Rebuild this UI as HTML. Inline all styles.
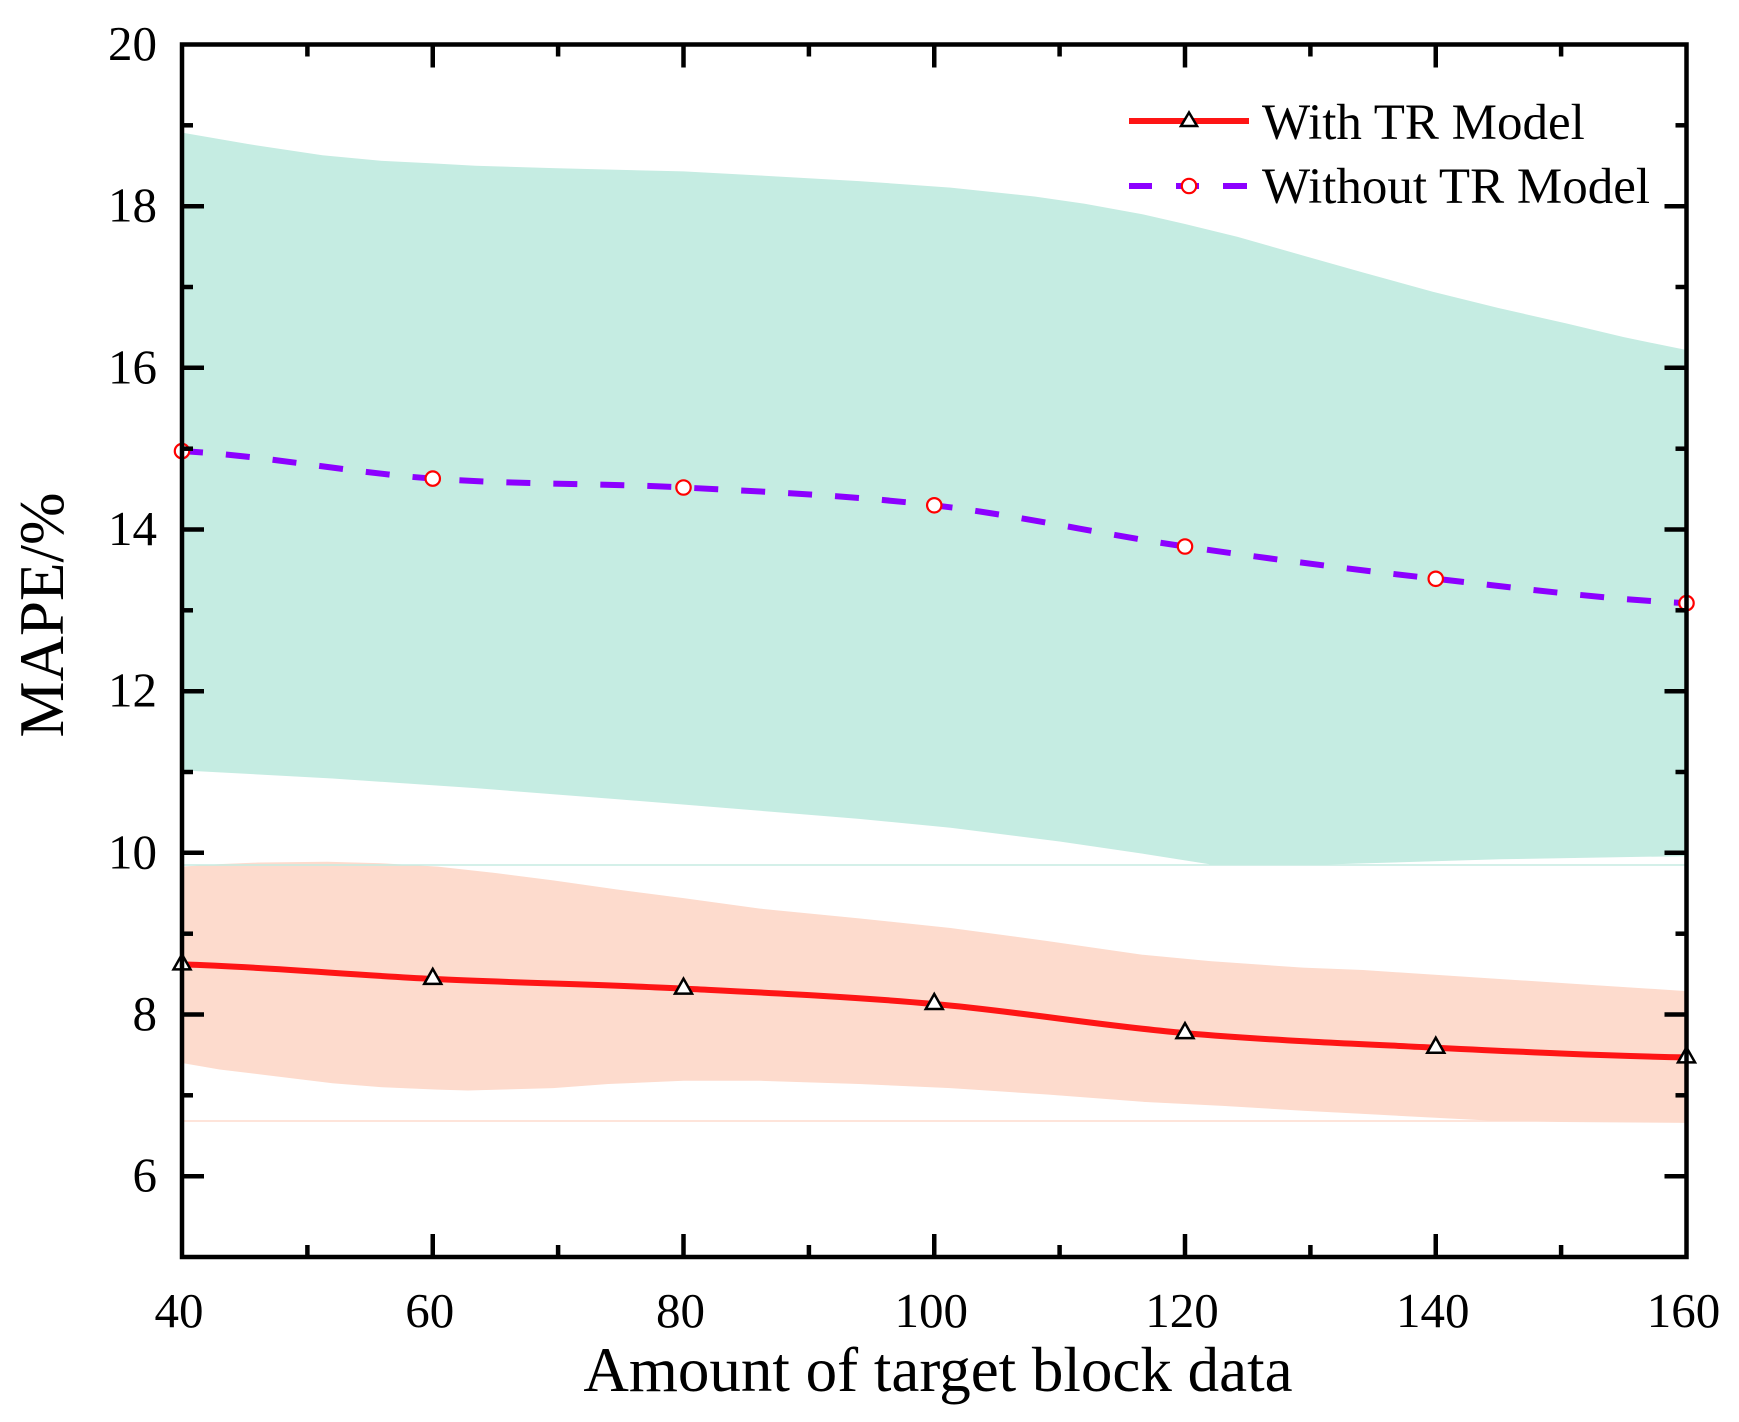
<!DOCTYPE html>
<html>
<head>
<meta charset="utf-8">
<style>
  html,body{margin:0;padding:0;background:#fff;}
  svg{display:block;}
  text{font-family:"Liberation Serif","Times New Roman",serif;fill:#000;}
</style>
</head>
<body>
<svg width="1739" height="1422" viewBox="0 0 1739 1422" xmlns="http://www.w3.org/2000/svg">
  <rect x="0" y="0" width="1739" height="1422" fill="#fff"/>

  <!-- bands in data coordinates -->
  <g transform="matrix(12.5375,0,0,-80.833,-319.5,1661.17)">
    <polygon fill="#c5ece2" points="40,18.91 45.2,18.77 51.2,18.63 56,18.56 60,18.53 63.4,18.50 69.6,18.47 80,18.43 86.1,18.38 94,18.31 101.3,18.23 108,18.12 112,18.03 116.6,17.90 120,17.78 124.2,17.62 129.4,17.39 134.2,17.18 139.8,16.94 145,16.74 150.4,16.55 155,16.38 160,16.22 160,9.96 145.1,9.92 134.2,9.87 130,9.85 122,9.85 121.9,9.86 116.6,9.99 110,10.14 101.3,10.31 94,10.42 86.9,10.51 75,10.66 63.4,10.80 52,10.92 40,11.02"/>
    <polygon fill="#fddbcd" points="40,9.83 43,9.86 46.1,9.88 51.6,9.89 56.1,9.87 60.4,9.83 65,9.75 69.6,9.66 75,9.54 80,9.44 86.1,9.31 94,9.19 101.3,9.07 109,8.91 116.6,8.74 122,8.66 129.4,8.58 134.2,8.55 145.1,8.44 152,8.37 160,8.29 160,6.66 150,6.67 144,6.69 139,6.73 134.2,6.77 129.4,6.81 123,6.87 116.6,6.92 109,7.01 101.3,7.09 94,7.14 86.1,7.18 80,7.18 74,7.14 69.6,7.09 62.8,7.06 60.4,7.07 56,7.10 52,7.15 46.7,7.25 43,7.32 40,7.40"/>
  </g>
  <!-- faint baseline artifacts -->
  <line x1="184" y1="865" x2="1685" y2="865" stroke="#c5ece2" stroke-width="1.5"/>
  <line x1="184" y1="1121" x2="1685" y2="1121" stroke="#fddbcd" stroke-width="1.5"/>

  <!-- Without TR (purple dashed) -->
  <path d="M182,451.1 C265.6,455.7 349.2,472.5 432.75,478.6 C516.3,484.7 599.9,483.1 683.5,487.5 C767.1,491.9 850.7,495.5 934.25,505.3 C1017.8,515.1 1101.4,534.3 1185,546.5 C1268.6,558.8 1352.2,569.4 1435.75,578.8 C1519.3,588.2 1602.9,599.1 1686.5,603.1"
        fill="none" stroke="#8c00ff" stroke-width="6" stroke-dasharray="24 23" stroke-dashoffset="3"/>

  <!-- With TR (red solid) -->
  <path d="M182,964.4 C265.6,966.8 349.2,974.9 432.75,978.9 C516.3,982.9 599.9,984.4 683.5,988.6 C767.1,992.8 850.7,996.6 934.25,1004.0 C1017.8,1011.4 1101.4,1025.8 1185,1033.1 C1268.6,1040.4 1352.2,1043.6 1435.75,1047.7 C1519.3,1051.8 1602.9,1055.8 1686.5,1057.4"
        fill="none" stroke="#fe1515" stroke-width="6"/>

  <!-- circle markers -->
  <g fill="#fff" stroke="#ff0000" stroke-width="2.2">
    <circle cx="182" cy="451.1" r="7.2"/>
    <circle cx="432.75" cy="478.6" r="7.2"/>
    <circle cx="683.5" cy="487.5" r="7.2"/>
    <circle cx="934.25" cy="505.3" r="7.2"/>
    <circle cx="1185" cy="546.5" r="7.2"/>
    <circle cx="1435.75" cy="578.8" r="7.2"/>
    <circle cx="1686.5" cy="603.1" r="7.2"/>
  </g>

  <!-- triangle markers -->
  <g fill="#fff" stroke="#000" stroke-width="2.5" stroke-linejoin="miter">
    <polygon points="182,954.4 173.5,969.4 190.5,969.4"/>
    <polygon points="432.75,968.9 424.25,983.9 441.25,983.9"/>
    <polygon points="683.5,978.6 675,993.6 692,993.6"/>
    <polygon points="934.25,994 925.75,1009 942.75,1009"/>
    <polygon points="1185,1023.1 1176.5,1038.1 1193.5,1038.1"/>
    <polygon points="1435.75,1037.7 1427.25,1052.7 1444.25,1052.7"/>
    <polygon points="1686.5,1047.4 1678,1062.4 1695,1062.4"/>
  </g>

  <!-- axes frame -->
  <rect x="182" y="44.5" width="1504.5" height="1212.5" fill="none" stroke="#000" stroke-width="4.5"/>

  <!-- ticks -->
  <g stroke="#000" stroke-width="4.5">
    <!-- left major -->
    <line x1="182" y1="1176.2" x2="204" y2="1176.2"/>
    <line x1="182" y1="1014.5" x2="204" y2="1014.5"/>
    <line x1="182" y1="852.8" x2="204" y2="852.8"/>
    <line x1="182" y1="691.2" x2="204" y2="691.2"/>
    <line x1="182" y1="529.5" x2="204" y2="529.5"/>
    <line x1="182" y1="367.8" x2="204" y2="367.8"/>
    <line x1="182" y1="206.2" x2="204" y2="206.2"/>
    <!-- left minor -->
    <line x1="182" y1="1095.3" x2="193" y2="1095.3"/>
    <line x1="182" y1="933.7" x2="193" y2="933.7"/>
    <line x1="182" y1="772" x2="193" y2="772"/>
    <line x1="182" y1="610.3" x2="193" y2="610.3"/>
    <line x1="182" y1="448.7" x2="193" y2="448.7"/>
    <line x1="182" y1="287" x2="193" y2="287"/>
    <line x1="182" y1="125.3" x2="193" y2="125.3"/>
    <!-- right major -->
    <line x1="1664.5" y1="1176.2" x2="1686.5" y2="1176.2"/>
    <line x1="1664.5" y1="1014.5" x2="1686.5" y2="1014.5"/>
    <line x1="1664.5" y1="852.8" x2="1686.5" y2="852.8"/>
    <line x1="1664.5" y1="691.2" x2="1686.5" y2="691.2"/>
    <line x1="1664.5" y1="529.5" x2="1686.5" y2="529.5"/>
    <line x1="1664.5" y1="367.8" x2="1686.5" y2="367.8"/>
    <line x1="1664.5" y1="206.2" x2="1686.5" y2="206.2"/>
    <!-- right minor -->
    <line x1="1675.5" y1="1095.3" x2="1686.5" y2="1095.3"/>
    <line x1="1675.5" y1="933.7" x2="1686.5" y2="933.7"/>
    <line x1="1675.5" y1="772" x2="1686.5" y2="772"/>
    <line x1="1675.5" y1="610.3" x2="1686.5" y2="610.3"/>
    <line x1="1675.5" y1="448.7" x2="1686.5" y2="448.7"/>
    <line x1="1675.5" y1="287" x2="1686.5" y2="287"/>
    <line x1="1675.5" y1="125.3" x2="1686.5" y2="125.3"/>
    <!-- bottom major -->
    <line x1="432.75" y1="1257" x2="432.75" y2="1234"/>
    <line x1="683.5" y1="1257" x2="683.5" y2="1234"/>
    <line x1="934.25" y1="1257" x2="934.25" y2="1234"/>
    <line x1="1185" y1="1257" x2="1185" y2="1234"/>
    <line x1="1435.75" y1="1257" x2="1435.75" y2="1234"/>
    <!-- bottom minor -->
    <line x1="307.4" y1="1257" x2="307.4" y2="1245"/>
    <line x1="558.1" y1="1257" x2="558.1" y2="1245"/>
    <line x1="808.9" y1="1257" x2="808.9" y2="1245"/>
    <line x1="1059.6" y1="1257" x2="1059.6" y2="1245"/>
    <line x1="1310.4" y1="1257" x2="1310.4" y2="1245"/>
    <line x1="1561.1" y1="1257" x2="1561.1" y2="1245"/>
    <!-- top major -->
    <line x1="432.75" y1="44.5" x2="432.75" y2="67.5"/>
    <line x1="683.5" y1="44.5" x2="683.5" y2="67.5"/>
    <line x1="934.25" y1="44.5" x2="934.25" y2="67.5"/>
    <line x1="1185" y1="44.5" x2="1185" y2="67.5"/>
    <line x1="1435.75" y1="44.5" x2="1435.75" y2="67.5"/>
    <!-- top minor -->
    <line x1="307.4" y1="44.5" x2="307.4" y2="56.5"/>
    <line x1="558.1" y1="44.5" x2="558.1" y2="56.5"/>
    <line x1="808.9" y1="44.5" x2="808.9" y2="56.5"/>
    <line x1="1059.6" y1="44.5" x2="1059.6" y2="56.5"/>
    <line x1="1310.4" y1="44.5" x2="1310.4" y2="56.5"/>
    <line x1="1561.1" y1="44.5" x2="1561.1" y2="56.5"/>
  </g>

  <!-- y tick labels -->
  <g font-size="49" text-anchor="end">
    <text x="157" y="1191.7">6</text>
    <text x="157" y="1030">8</text>
    <text x="157" y="868.3">10</text>
    <text x="157" y="706.7">12</text>
    <text x="157" y="545">14</text>
    <text x="157" y="383.3">16</text>
    <text x="157" y="221.7">18</text>
    <text x="157" y="60">20</text>
  </g>

  <!-- x tick labels -->
  <g font-size="49" text-anchor="middle">
    <text x="179" y="1327">40</text>
    <text x="429.75" y="1327">60</text>
    <text x="680.5" y="1327">80</text>
    <text x="931.25" y="1327">100</text>
    <text x="1182" y="1327">120</text>
    <text x="1432.75" y="1327">140</text>
    <text x="1683.5" y="1327">160</text>
  </g>

  <!-- axis titles -->
  <text x="938" y="1391" font-size="63" text-anchor="middle">Amount of target block data</text>
  <text transform="translate(63,615) rotate(-90)" font-size="63" text-anchor="middle">MAPE/%</text>

  <!-- legend -->
  <line x1="1129" y1="121" x2="1249" y2="121" stroke="#fe1515" stroke-width="6"/>
  <polygon points="1189,112.5 1181,126 1197,126" fill="#fff" stroke="#000" stroke-width="2.5"/>
  <g stroke="#8c00ff" stroke-width="6">
    <line x1="1129" y1="186" x2="1152" y2="186"/>
    <line x1="1176" y1="186" x2="1199" y2="186"/>
    <line x1="1223" y1="186" x2="1247" y2="186"/>
  </g>
  <circle cx="1189" cy="186" r="7.2" fill="#fff" stroke="#ff0000" stroke-width="2.2"/>
  <text x="1262" y="139" font-size="51">With TR Model</text>
  <text x="1262" y="203" font-size="51">Without TR Model</text>
</svg>
</body>
</html>
